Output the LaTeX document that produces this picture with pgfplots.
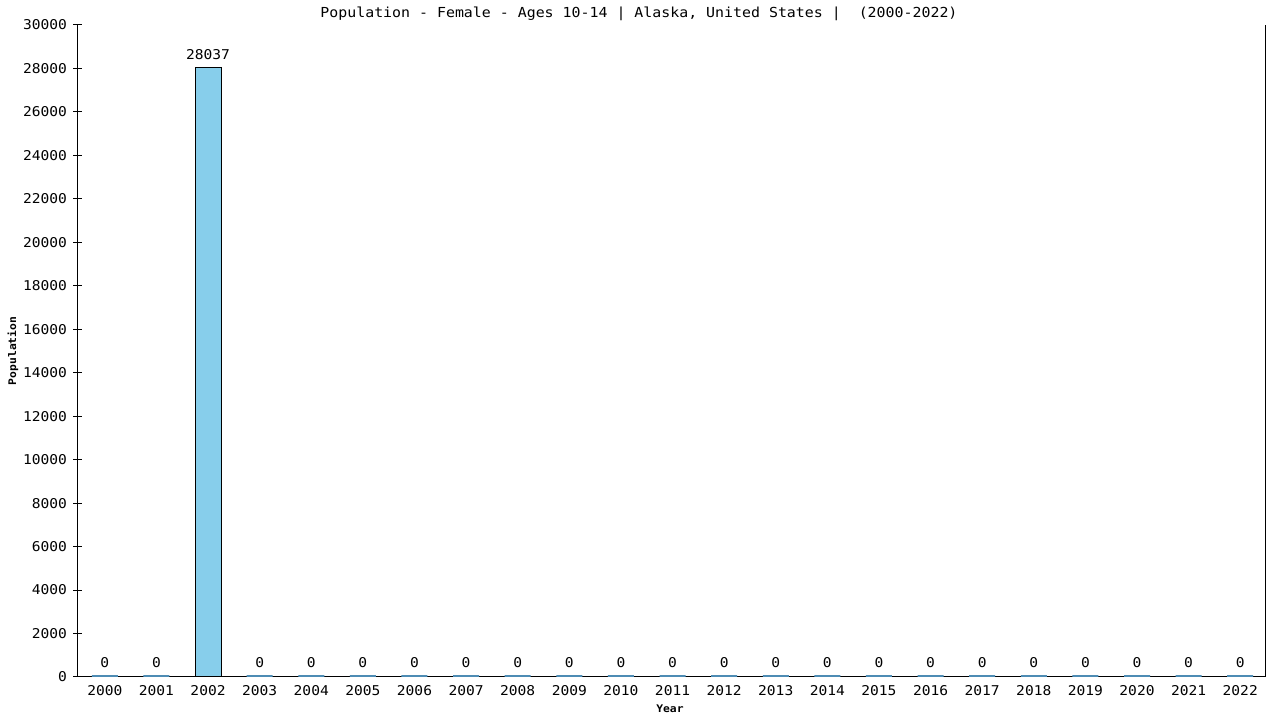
\documentclass[border=0pt]{standalone}
\usepackage{pgfplots}
\pgfplotsset{compat=1.18}
\usepackage{fontspec}
\setmainfont{DejaVu Sans Mono}[FakeStretch=1.08]
\definecolor{barfill}{HTML}{87CEEB}
\definecolor{zeroline}{RGB}{78,140,180}
\newcommand{\chartfont}{\fontsize{13.5}{16}\selectfont}
\newcommand{\titlefont}{\fontsize{13.8}{16}\selectfont}
\newcommand{\labfont}{\bfseries\fontsize{10.5}{12}\selectfont}
\begin{document}
\begin{tikzpicture}
\path (-78pt,-43pt) rectangle (1202pt,677pt);
\begin{axis}[
  scale only axis, width=1187pt, height=652pt,
  at={(0pt,0pt)}, anchor=south west,
  xmin=-0.52, xmax=22.48, ymin=0, ymax=30000,
  ytick={0,2000,...,30000},
  xtick={0,...,22},
  xticklabels={2000,2001,2002,2003,2004,2005,2006,2007,2008,2009,2010,2011,2012,2013,2014,2015,2016,2017,2018,2019,2020,2021,2022},
  axis x line=bottom, axis y line=box, ytick pos=left,
  axis line style={-, line width=1pt, black},
  ytick align=center, major tick length=9pt,
  every tick/.style={black, line width=1pt},
  x tick style={draw=none},
  scaled y ticks=false,
  /pgf/number format/1000 sep={},
  /pgf/number format/assume math mode=true,
  tick label style={font=\chartfont, black},
  yticklabel style={xshift=-3pt},
  xticklabel style={yshift=4pt},
  ybar, bar width=26pt, bar shift=0pt,
  nodes near coords,
  every node near coord/.append style={font=\chartfont, black, yshift=4pt},
  title={Population - Female - Ages 10-14 | Alaska, United States |~ (2000-2022)},
  title style={at={(axis description cs:0.4726,1)}, anchor=south, yshift=-2pt, inner sep=0pt, font=\titlefont},
  ylabel={Population},
  ylabel style={at={(axis description cs:-0.0548,0.5)}, anchor=center, inner sep=0pt, font=\labfont},
  xlabel={Year},
  xlabel style={at={(axis description cs:0.4987,-0.049)}, anchor=center, inner sep=0pt, font=\labfont},
]
\addplot[fill=barfill, draw=zeroline, line width=1.5pt, yshift=1pt]
  coordinates {(0,0) (1,0) (3,0) (4,0) (5,0) (6,0) (7,0) (8,0) (9,0) (10,0) (11,0) (12,0) (13,0) (14,0) (15,0) (16,0) (17,0) (18,0) (19,0) (20,0) (21,0) (22,0)};
\addplot[fill=barfill, draw=black, line width=1pt]
  coordinates {(2,28037)};
\end{axis}
\end{tikzpicture}
\end{document}
